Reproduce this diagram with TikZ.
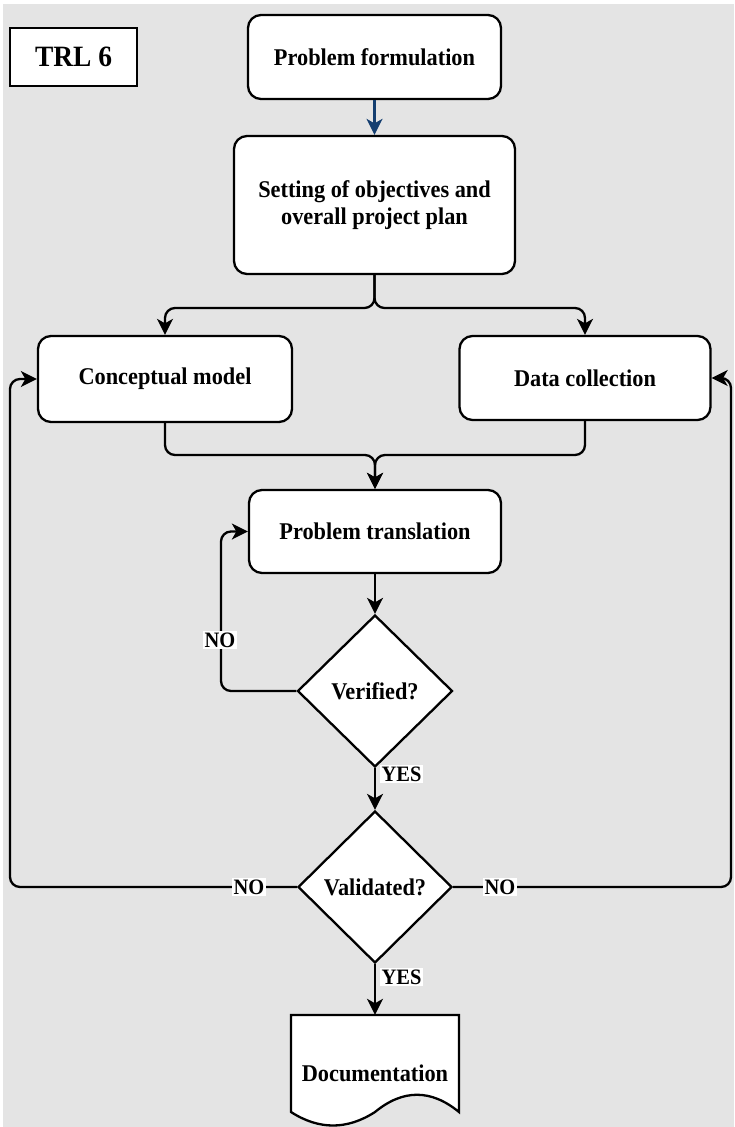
\documentclass[tikz,border=0pt]{standalone}
\usepackage{fontspec}
\setmainfont{Liberation Serif}[FakeStretch=0.93]
\usetikzlibrary{arrows.meta,shapes.geometric}

\definecolor{panel}{RGB}{228,228,228}
\definecolor{linkblue}{RGB}{20,62,112}

\newcommand\boxfont{\fontsize{24}{27}\selectfont\bfseries}
\newcommand\tagfont{\fontsize{22}{24}\selectfont\bfseries}
\newcommand\trlfont{\fontsize{29.5}{33}\selectfont\bfseries}

\begin{document}
\begin{tikzpicture}[x=1pt,y=-1pt,
  stepbox/.style={draw, fill=white, line width=2.3pt, rounded corners=13pt,
                  align=center, inner sep=0pt, font=\boxfont},
  decision/.style={draw, fill=white, line width=2.3pt, shape=diamond,
                   inner sep=0pt, font=\boxfont},
  flow/.style={line width=2.3pt, rounded corners=10pt,
               -{Stealth[length=16pt,width=16pt,inset=4.5pt]}},
  tag/.style={fill=white, inner sep=1.2pt, font=\tagfont},
]
\useasboundingbox (0,0) rectangle (734,1127);
\fill[panel] (3,4) rectangle (734,1127);

% level badge
\node[draw, fill=white, line width=2.3pt, minimum width=127pt, minimum height=58pt,
      inner sep=0pt, font=\trlfont] (trl) at (73.5,57) {TRL 6};

% process steps
\node[stepbox, minimum width=253pt, minimum height=84pt] (pf) at (374.5,57) {Problem formulation};
\node[stepbox, minimum width=281pt, minimum height=138pt] (set) at (374.5,205)
     {Setting of objectives and\\overall project plan};
\node[stepbox, minimum width=254pt, minimum height=86pt] (cm) at (165,379) {Conceptual model};
\node[stepbox, minimum width=251pt, minimum height=84pt] (dc) at (585,378) {Data collection};
\node[stepbox, minimum width=252pt, minimum height=83pt] (pt) at (375,531.5) {Problem translation};

% checks
\node[decision, minimum width=155pt, minimum height=152pt] (ver) at (375,691) {Verified?};
\node[decision, minimum width=154pt, minimum height=152pt] (val) at (375,887) {Validated?};

% final document: sheet with a wavy lower edge
\draw[fill=white, line width=2.3pt, line join=miter]
  (291,1112) -- (291,1015) -- (459,1015) -- (459,1112)
  .. controls (431,1089) and (403,1089) .. (375,1112)
  .. controls (347,1130) and (319,1130) .. (291,1112) -- cycle;
\node[font=\boxfont, minimum width=168pt, minimum height=116pt, inner sep=0pt] (doc) at (375,1073) {Documentation};

% junction and bend points
\coordinate (split) at (374.5,308);
\coordinate (merge) at (375,455);
\coordinate (verbend) at (221,691);
\coordinate (leftbend) at (10,887);
\coordinate (rightbend) at (731,887);

% connectors
\draw[flow, draw=linkblue, fill=linkblue] (pf.south) -- (set.north);
\draw[flow] (set.south) -- (split) -| (cm.north);
\draw[flow] (set.south) -- (split) -| (dc.north);
\draw[flow] (cm.south) |- (merge) -- (pt.north);
\draw[flow] (dc.south) |- (merge) -- (pt.north);
\draw[flow] (pt.south) -- (ver.north);
\draw[flow] (ver.west) -- (verbend) |- (pt.west);
\draw[flow] (ver.south) -- (val.north);
\draw[flow] (val.west) -- (leftbend) |- (cm.west);
\draw[flow] (val.east) -- (rightbend) |- (dc.east);
\draw[flow] (val.south) -- (doc.north);

% branch labels
\node[tag] (noloop) at (220,640) {NO};
\node[tag] (yes1) at (401.5,774) {YES};
\node[tag] (noleft) at (249,887) {NO};
\node[tag] (noright) at (500,887) {NO};
\node[tag] (yes2) at (401.5,977) {YES};
\end{tikzpicture}
\end{document}
